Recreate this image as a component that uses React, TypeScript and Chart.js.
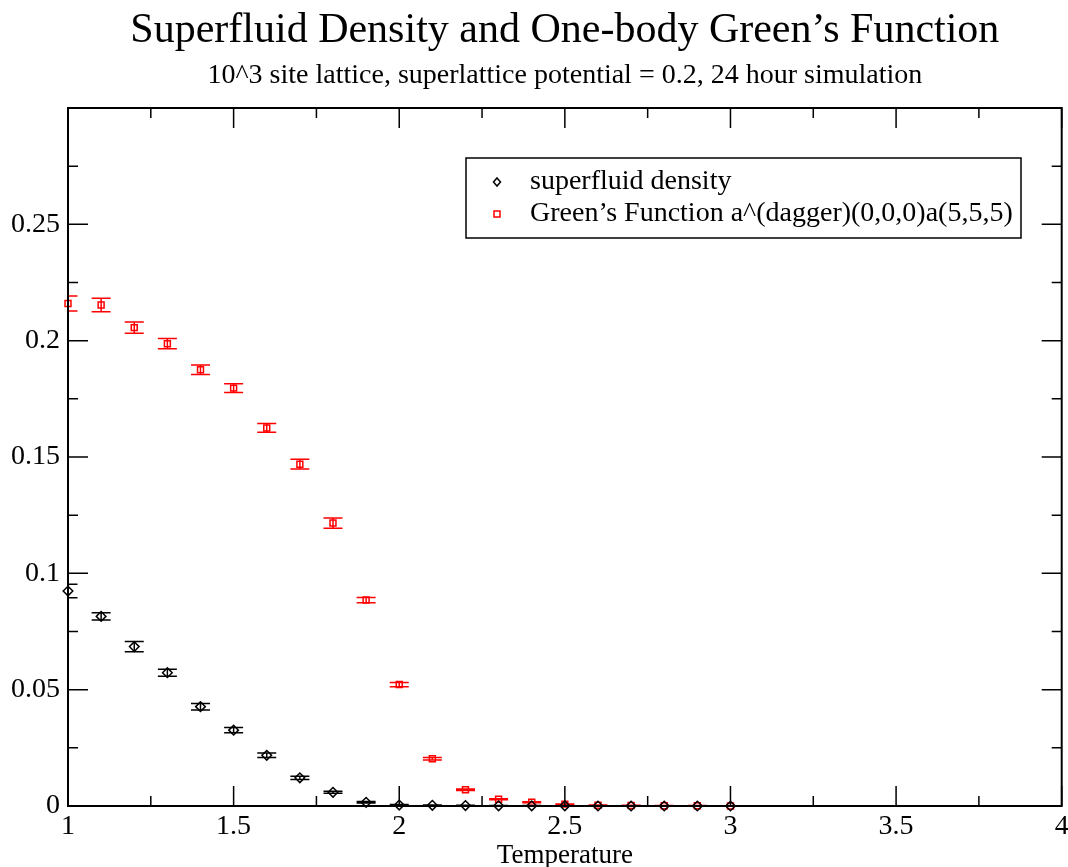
import React, { useEffect, useRef } from 'react';
import { Chart, registerables } from 'chart.js';

Chart.register(...registerables);

const TITLE = 'Superfluid Density and One-body Green\u2019s Function';
const SUBTITLE = '10^3 site lattice, superlattice potential = 0.2, 24 hour simulation';
const X_TITLE = 'Temperature';

const temperatures = [1.0, 1.1, 1.2, 1.3, 1.4, 1.5, 1.6, 1.7, 1.8, 1.9, 2.0, 2.1, 2.2, 2.3, 2.4, 2.5, 2.6, 2.7, 2.8, 2.9, 3.0];

const superfluidLabel = 'superfluid density';
const superfluid = [0.0924, 0.0815, 0.0685, 0.0573, 0.0427, 0.0326, 0.0218, 0.0121, 0.0059, 0.0016, 0.0004, 0.0003, 0.0002, 0.0001, 0.0001, 0.0001, 0.0, 0.0, 0.0, 0.0, 0.0];
const superfluidErr = [0.0029, 0.0016, 0.0022, 0.0015, 0.0014, 0.0011, 0.001, 0.0007, 0.0004, 0.0003, 0.0002, 0.0001, 0.0001, 0.0001, 0.0001, 0.0001, 0.0001, 0.0001, 0.0001, 0.0001, 0.0001];

const greenLabel = 'Green\u2019s Function a^(dagger)(0,0,0)a(5,5,5)';
const green = [0.216, 0.2153, 0.2056, 0.1987, 0.1875, 0.1796, 0.1625, 0.1469, 0.1216, 0.0885, 0.0522, 0.0203, 0.007, 0.0029, 0.0016, 0.0008, 0.0003, 0.0002, 0.0001, 0.0001, 0.0];
const greenErr = [0.0032, 0.0029, 0.0024, 0.0022, 0.002, 0.0019, 0.0019, 0.0021, 0.0022, 0.0011, 0.0009, 0.0005, 0.0003, 0.0002, 0.0002, 0.0001, 0.0001, 0.0001, 0.0001, 0.0001, 0.0001];

const FONT = "'Liberation Serif', 'Times New Roman', serif";

const titlePlugin = {
  id: 'centeredTitles',
  afterDraw(chart: any) {
    const { ctx, chartArea } = chart;
    const cx = (chartArea.left + chartArea.right) / 2;
    ctx.save();
    ctx.fillStyle = '#000';
    ctx.textAlign = 'center';
    ctx.textBaseline = 'middle';
    ctx.font = `42px ${FONT}`;
    ctx.fillText(TITLE, cx, 31);
    ctx.font = `28px ${FONT}`;
    ctx.fillText(SUBTITLE, cx, 76);
    ctx.restore();
  },
};

const errorBarPlugin = {
  id: 'errorBars',
  beforeDatasetsDraw(chart: any) {
    const { ctx, chartArea, scales } = chart;
    const xs = scales.x;
    const ys = scales.y;
    ctx.save();
    ctx.beginPath();
    ctx.rect(chartArea.left, chartArea.top, chartArea.right - chartArea.left, chartArea.bottom - chartArea.top);
    ctx.clip();
    chart.data.datasets.forEach((ds: any) => {
      const errs: number[] = ds.errors || [];
      ctx.strokeStyle = ds.borderColor;
      ctx.lineWidth = 1.5;
      ds.data.forEach((p: any, i: number) => {
        const e = errs[i] || 0;
        const px = xs.getPixelForValue(p.x);
        const yTop = ys.getPixelForValue(p.y + e);
        const yBot = ys.getPixelForValue(p.y - e);
        const cap = 9.5;
        ctx.beginPath();
        ctx.moveTo(px, yTop);
        ctx.lineTo(px, yBot);
        ctx.moveTo(px - cap, yTop);
        ctx.lineTo(px + cap, yTop);
        ctx.moveTo(px - cap, yBot);
        ctx.lineTo(px + cap, yBot);
        ctx.stroke();
      });
    });
    ctx.restore();
  },
};

const frameTickPlugin = {
  id: 'frameTicks',
  afterDatasetsDraw(chart: any) {
    const { ctx, chartArea, scales } = chart;
    const { left, right, top, bottom } = chartArea;
    const xs = scales.x;
    const ys = scales.y;
    ctx.save();
    ctx.strokeStyle = '#000';
    ctx.lineWidth = 1.5;
    const major = 20;
    const minor = 10;
    const xVals = xs.ticks.map((t: any) => t.value);
    const yVals = ys.ticks.map((t: any) => t.value);
    ctx.beginPath();
    xVals.forEach((v: number, i: number) => {
      const px = xs.getPixelForValue(v);
      ctx.moveTo(px, bottom); ctx.lineTo(px, bottom - major);
      ctx.moveTo(px, top); ctx.lineTo(px, top + major);
      if (i < xVals.length - 1) {
        const m = xs.getPixelForValue((v + xVals[i + 1]) / 2);
        ctx.moveTo(m, bottom); ctx.lineTo(m, bottom - minor);
        ctx.moveTo(m, top); ctx.lineTo(m, top + minor);
      }
    });
    yVals.forEach((v: number, i: number) => {
      const py = ys.getPixelForValue(v);
      ctx.moveTo(left, py); ctx.lineTo(left + major, py);
      ctx.moveTo(right, py); ctx.lineTo(right - major, py);
      if (i < yVals.length - 1) {
        const m = ys.getPixelForValue((v + yVals[i + 1]) / 2);
        ctx.moveTo(left, m); ctx.lineTo(left + minor, m);
        ctx.moveTo(right, m); ctx.lineTo(right - minor, m);
      }
    });
    ctx.stroke();
    ctx.lineWidth = 2;
    ctx.strokeRect(left, top, right - left, bottom - top);
    ctx.restore();
  },
};

const legendBoxPlugin = {
  id: 'legendBox',
  afterDraw(chart: any) {
    const { ctx, chartArea } = chart;
    const bx = chartArea.left + 398;
    const by = chartArea.top + 50;
    const bw = 555;
    const bh = 80;
    ctx.save();
    ctx.fillStyle = '#fff';
    ctx.fillRect(bx, by, bw, bh);
    ctx.strokeStyle = '#000';
    ctx.lineWidth = 1.5;
    ctx.strokeRect(bx, by, bw, bh);
    ctx.font = `28px ${FONT}`;
    ctx.textBaseline = 'middle';
    ctx.textAlign = 'left';
    chart.data.datasets.forEach((ds: any, i: number) => {
      const cy = by + 24 + i * 32;
      const cx = bx + 31;
      ctx.strokeStyle = ds.borderColor;
      ctx.lineWidth = 1.5;
      ctx.beginPath();
      if (ds.pointStyle === 'rectRot') {
        ctx.moveTo(cx, cy - 4); ctx.lineTo(cx + 3.5, cy); ctx.lineTo(cx, cy + 4); ctx.lineTo(cx - 3.5, cy); ctx.closePath();
      } else {
        ctx.rect(cx - 3, cy - 3, 6, 6);
      }
      ctx.stroke();
      ctx.fillStyle = '#000';
      ctx.fillText(ds.label, bx + 64, cy);
    });
    ctx.restore();
  },
};

export default function App() {
  const ref = useRef<HTMLCanvasElement | null>(null);
  useEffect(() => {
    if (!ref.current) return;
    Chart.defaults.font.family = FONT;
    Chart.defaults.color = '#000';
    const chart = new Chart(ref.current, {
      type: 'scatter',
      data: {
        datasets: [
          {
            label: superfluidLabel,
            data: temperatures.map((t, i) => ({ x: t, y: superfluid[i] })),
            errors: superfluidErr,
            borderColor: '#000000',
            backgroundColor: 'rgba(0,0,0,0)',
            pointStyle: 'rectRot',
            pointRadius: 4.8,
            pointBorderWidth: 1.5,
            clip: false,
          } as any,
          {
            label: greenLabel,
            data: temperatures.map((t, i) => ({ x: t, y: green[i] })),
            errors: greenErr,
            borderColor: '#ff0000',
            backgroundColor: 'rgba(0,0,0,0)',
            pointStyle: 'rect',
            pointRadius: 4.2,
            pointBorderWidth: 1.5,
            clip: false,
          } as any,
        ],
      },
      options: {
        responsive: false,
        animation: false,
        devicePixelRatio: 1,
        layout: { padding: { left: 0, right: 5, top: 108, bottom: 0 } },
        plugins: {
          legend: { display: false },
          tooltip: { enabled: false },
          title: { display: false },
          subtitle: { display: false },
        },
        scales: {
          x: {
            type: 'linear',
            min: 1,
            max: 4,
            ticks: {
              stepSize: 0.5,
              padding: 4,
              color: '#000',
              font: { family: FONT, size: 28 },
              maxRotation: 0,
              callback: (v: any) => String(Number(Number(v).toFixed(2))),
            },
            grid: { display: false, drawTicks: false },
            border: { display: false },
            title: {
              display: true,
              text: X_TITLE,
              color: '#000',
              font: { family: FONT, size: 27, lineHeight: 0.85 },
              padding: { top: 0, bottom: 0 },
            },
            afterFit: (scale: any) => {
              scale.height = 61;
              scale.paddingLeft = 0;
              scale.paddingRight = 0;
            },
          },
          y: {
            type: 'linear',
            min: 0,
            max: 0.3,
            ticks: {
              stepSize: 0.05,
              padding: 8,
              color: '#000',
              font: { family: FONT, size: 28 },
              callback: (v: any) => (Number(v) > 0.29 ? '' : String(Number(Number(v).toFixed(3)))),
            },
            grid: { display: false, drawTicks: false },
            border: { display: false },
            afterFit: (scale: any) => {
              scale.width = 68;
              scale.paddingTop = 0;
              scale.paddingBottom = 0;
            },
          },
        },
      } as any,
      plugins: [errorBarPlugin, frameTickPlugin, legendBoxPlugin, titlePlugin],
    });
    return () => chart.destroy();
  }, []);
  return (
    <div style={{ position: 'absolute', left: 0, top: 0, width: 1068, height: 867, background: '#fff' }}>
      <canvas ref={ref} width={1068} height={867} style={{ width: 1068, height: 867 }} />
    </div>
  );
}
